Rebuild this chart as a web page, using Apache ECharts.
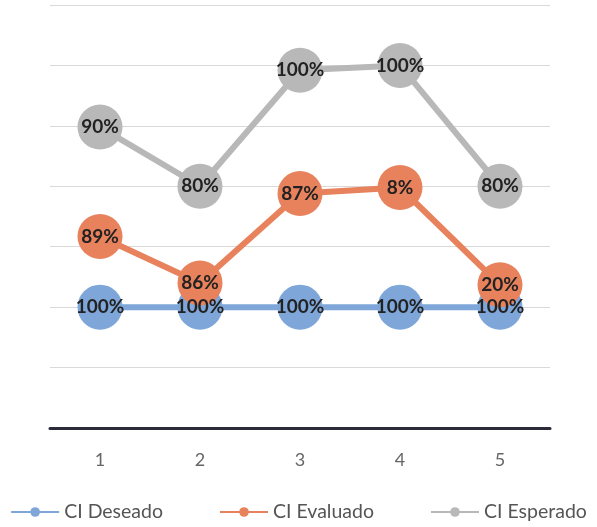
<!DOCTYPE html>
<html>
<head>
<meta charset="utf-8">
<script src="https://cdn.jsdelivr.net/npm/echarts@6/dist/echarts.min.js"></script>
<style>html,body{margin:0;padding:0;background:#fff;}#c{width:597px;height:527px;}</style>
</head>
<body>
<div id="c"></div>
<script>
const categories = ['1', '2', '3', '4', '5'];
const deseadoValues = [2, 2, 2, 2, 2];
const evaluadoValues = [3.17, 2.4, 3.88, 3.98, 2.37];
const esperadoValues = [4.98, 4, 5.92, 6, 4];
const deseadoLabels = ['100%', '100%', '100%', '100%', '100%'];
const evaluadoLabels = ['89%', '86%', '87%', '8%', '20%'];
const esperadoLabels = ['90%', '80%', '100%', '100%', '80%'];

const FONT = 'Lato';
function mk(name, data, labels, color) {
  return {
    name: name, type: 'line', data: data,
    symbol: 'circle', symbolSize: 45,
    lineStyle: { color: color, width: 6 },
    itemStyle: { color: color },
    label: {
      show: true, position: 'inside',
      formatter: p => labels[p.dataIndex],
      fontFamily: FONT, fontWeight: 'bold', fontSize: 19, color: '#222'
    },
    emphasis: { disabled: true },
    animation: false
  };
}
const chart = echarts.init(document.getElementById('c'));
chart.setOption({
  backgroundColor: '#fff',
  animation: false,
  grid: { left: 50, right: 47, top: 5, bottom: 99 },
  xAxis: {
    type: 'category', data: categories, boundaryGap: true,
    axisLine: { lineStyle: { color: '#2a2a38', width: 3 } },
    axisTick: { show: false },
    axisLabel: { margin: 23, fontSize: 18, color: '#666', fontFamily: FONT },
    z: 10
  },
  yAxis: {
    type: 'value', min: 0, max: 7, interval: 1,
    axisLabel: { show: false }, axisLine: { show: false }, axisTick: { show: false },
    splitLine: { lineStyle: { color: '#d9d9d9', width: 1 } }
  },
  legend: {
    bottom: 0, left: 'center', itemGap: 56, itemWidth: 48, itemHeight: 12,
    textStyle: { fontSize: 19.5, color: '#555', fontFamily: FONT },
    data: ['CI Deseado', 'CI Evaluado', 'CI Esperado']
  },
  series: [
    mk('CI Deseado', deseadoValues, deseadoLabels, '#7ea6d8'),
    mk('CI Evaluado', evaluadoValues, evaluadoLabels, '#e8825c'),
    mk('CI Esperado', esperadoValues, esperadoLabels, '#b8b8b8')
  ]
});
</script>
</body>
</html>
